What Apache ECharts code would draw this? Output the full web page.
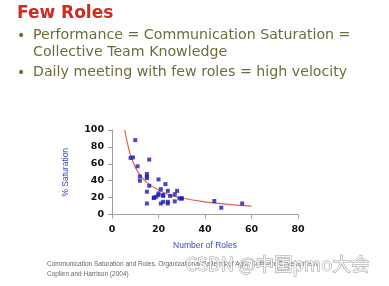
<!DOCTYPE html>
<html><head><meta charset="utf-8">
<script src="https://cdn.jsdelivr.net/npm/echarts@6/dist/echarts.min.js"></script>
<style>html,body{margin:0;padding:0;background:#fff}#c{width:389px;height:286px}</style>
</head><body><div id="c"></div>
<script>
const titleText = "Few Roles";
const bulletLines = ["Performance = Communication Saturation =", "Collective Team Knowledge", "Daily meeting with few roles = high velocity"];
const footnoteLines = ["Communication Saturation and Roles. Organizational Patterns of Agile Software Development,", "Coplien and Harrison (2004)"];
const watermark = "CSDN @中国pmo大会";
const xAxisName = "Number of Roles";
const yAxisName = "% Saturation";
const rolesX = [10, 8, 9, 11, 12, 12, 15, 15, 15, 16, 16, 15, 15, 20, 23, 21, 24, 28, 27, 20, 20, 18, 19, 18, 22, 22, 25, 21, 22, 24, 24, 27, 29, 30, 30, 44, 47, 56];
const saturationY = [88, 67, 67.5, 57, 45, 40, 48, 45, 43, 65, 34, 27, 13, 41.5, 36, 30, 28, 28, 24, 23, 25, 20, 21, 19.5, 23, 22, 22, 13, 15, 13, 15, 15.5, 19, 19, 19, 16, 8, 13];
const curveX = [5.5, 7, 8, 10, 12, 15, 20, 25, 30, 40, 50, 60];
const curveY = [100, 80, 70, 56, 47, 38, 29, 23, 19.5, 15, 12, 10];

const chart = echarts.init(document.getElementById('c'));
const pts = rolesX.map((x, i) => [x, saturationY[i]]);
const curve = curveX.map((x, i) => [x, curveY[i]]);
const olive = '#6e6c3c';
const g = [
  {type:'text', left:17, top:5, style:{text:titleText, fill:'#d22a1c', font:'bold 17px "DejaVu Sans"'}},
  {type:'text', left:17, top:29, style:{text:'•', fill:olive, font:'14px "DejaVu Sans"'}},
  {type:'text', left:17, top:66, style:{text:'•', fill:olive, font:'14px "DejaVu Sans"'}},
  {type:'text', left:33, top:28, style:{text:bulletLines[0], fill:olive, font:'14.2px "DejaVu Sans"'}},
  {type:'text', left:33, top:45, style:{text:bulletLines[1], fill:olive, font:'14.2px "DejaVu Sans"'}},
  {type:'text', left:33, top:65, style:{text:bulletLines[2], fill:olive, font:'14.2px "DejaVu Sans"'}},
  {type:'text', left:47, top:261, style:{text:footnoteLines[0], fill:'#666', font:'6.5px "Liberation Sans"'}},
  {type:'text', left:47, top:271, style:{text:footnoteLines[1], fill:'#666', font:'6.5px "Liberation Sans"'}},
  {type:'text', left:185, top:254, style:{text:watermark, fill:'rgba(255,255,255,0.85)', stroke:'#9a9a9a', lineWidth:1, font:'18.5px "Noto Sans CJK SC"'}}
];
chart.setOption({
  animation:false,
  graphic:g,
  grid:{left:112, right:91, top:130, bottom:71.5},
  xAxis:{type:'value', min:0, max:80, interval:20, name:xAxisName, nameLocation:'middle', nameGap:27,
    nameTextStyle:{color:'#3a48c8', fontSize:8.5, fontFamily:'Liberation Sans'},
    axisLine:{lineStyle:{color:'#a0a0a0'}}, axisTick:{show:true, length:4, lineStyle:{color:'#a0a0a0'}},
    splitLine:{show:false},
    axisLabel:{color:'#111', fontWeight:'bold', fontSize:9.5, fontFamily:'DejaVu Sans', margin:10}},
  yAxis:{type:'value', min:0, max:100, interval:20, name:yAxisName, nameLocation:'middle', nameGap:42,
    nameTextStyle:{color:'#3a48c8', fontSize:8.5, fontFamily:'Liberation Sans'},
    axisLine:{show:true, lineStyle:{color:'#a0a0a0'}}, axisTick:{show:true, length:4, lineStyle:{color:'#a0a0a0'}},
    splitLine:{show:false},
    axisLabel:{color:'#111', fontWeight:'bold', fontSize:9.5, fontFamily:'DejaVu Sans', margin:8}},
  series:[
    {type:'line', data:curve, smooth:true, symbol:'none', lineStyle:{color:'#e0605a', width:1.2}, z:2},
    {type:'scatter', data:pts, symbol:'rect', symbolSize:4, itemStyle:{color:'#1c1cb4'}, z:3}
  ]
});
</script></body></html>
